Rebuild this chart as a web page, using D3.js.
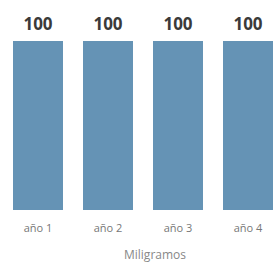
<!DOCTYPE html>
<html>
<head>
<meta charset="utf-8">
<script src="https://cdn.jsdelivr.net/npm/d3@7"></script>
<style>
  body { margin: 0; background: #fff; }
  text { font-family: "Open Sans", "DejaVu Sans", sans-serif; }
</style>
</head>
<body>
<div id="target"></div>
<script>
const categories = ["año 1", "año 2", "año 3", "año 4"];
const values = [100, 100, 100, 100];
const axisTitle = "Miligramos";

const width = 276, height = 271;
const margin = {top: 41, left: 13, right: 3, bottom: 61};

let svg = d3.select("#target").append("svg")
  .attr("width", width)
  .attr("height", height);

let x = d3.scaleBand()
  .domain(categories)
  .range([margin.left, width - margin.right])
  .paddingInner(20 / 70)
  .paddingOuter(0);

let y = d3.scaleLinear()
  .domain([0, 100])
  .range([height - margin.bottom, margin.top]);

svg.selectAll("rect.bar")
  .data(values)
  .enter().append("rect")
  .attr("class", "bar")
  .attr("x", (d, i) => x(categories[i]))
  .attr("y", d => y(d))
  .attr("width", x.bandwidth())
  .attr("height", d => y(0) - y(d))
  .attr("fill", "#6593b5");

// value labels above bars
svg.selectAll("text.val")
  .data(values)
  .enter().append("text")
  .attr("class", "val")
  .attr("x", (d, i) => x(categories[i]) + x.bandwidth() / 2)
  .attr("y", d => y(d) - 11)
  .attr("text-anchor", "middle")
  .attr("font-size", 17)
  .attr("font-weight", "bold")
  .attr("fill", "#3a3a3a")
  .text(d => d);

// category axis, no line or ticks
let xAxis = svg.append("g")
  .attr("transform", `translate(0,${y(0)})`)
  .call(d3.axisBottom(x).tickSize(0).tickPadding(14));
xAxis.select(".domain").remove();
xAxis.selectAll("text")
  .attr("font-size", 11)
  .attr("fill", "#777")
  .style("font-family", "'Open Sans', sans-serif");

svg.append("text")
  .attr("x", 155)
  .attr("y", 259)
  .attr("text-anchor", "middle")
  .attr("font-size", 12)
  .attr("fill", "#888")
  .text(axisTitle);
</script>
</body>
</html>
